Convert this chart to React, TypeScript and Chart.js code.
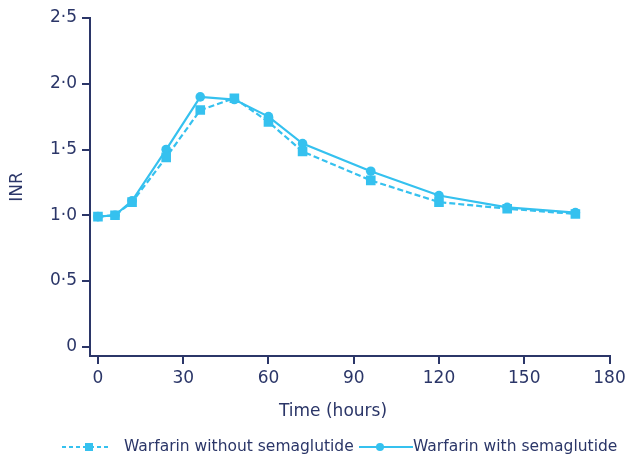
import React, { useEffect, useRef } from "react";
import { Chart, registerables } from "chart.js";

Chart.register(...registerables);

// ---- data ----
const TIMES = [0, 6, 12, 24, 36, 48, 60, 72, 96, 120, 144, 168];
const INR_WITHOUT = [0.99, 1.0, 1.1, 1.44, 1.8, 1.89, 1.71, 1.485, 1.265, 1.1, 1.05, 1.01];
const INR_WITH = [0.99, 1.0, 1.11, 1.5, 1.9, 1.88, 1.75, 1.545, 1.335, 1.15, 1.06, 1.02];
const X_TICKS = [0, 30, 60, 90, 120, 150, 180];
const Y_TICKS = [0, 0.5, 1, 1.5, 2, 2.5];
const SERIES_LABELS = ["Warfarin without semaglutide", "Warfarin with semaglutide"];
const X_TITLE = "Time (hours)";
const Y_TITLE = "INR";

// ---- styles ----
const NAVY = "#2b3668";
const BLUE = "#35c1ef";
const FONT = '"DejaVu Sans", Verdana, sans-serif';

const overlayPlugin = {
  id: "overlay",
  afterDraw(chart: any) {
    const ctx = chart.ctx as CanvasRenderingContext2D;
    ctx.save();
    // x axis title
    ctx.fillStyle = NAVY;
    ctx.font = `17px ${FONT}`;
    ctx.textAlign = "center";
    ctx.textBaseline = "middle";
    ctx.fillText(X_TITLE, 333, 412);

    // legend
    const ly = 447;
    ctx.font = `15.5px ${FONT}`;
    ctx.textAlign = "left";
    // item 1: dashed line + square
    ctx.strokeStyle = BLUE;
    ctx.lineWidth = 2;
    ctx.setLineDash([4, 3]);
    ctx.beginPath();
    ctx.moveTo(62, ly);
    ctx.lineTo(111, ly);
    ctx.stroke();
    ctx.setLineDash([]);
    ctx.fillStyle = BLUE;
    ctx.fillRect(89 - 4, ly - 4, 8, 8);
    ctx.fillStyle = NAVY;
    ctx.fillText(SERIES_LABELS[0], 124, ly);
    // item 2: solid line + circle
    ctx.strokeStyle = BLUE;
    ctx.beginPath();
    ctx.moveTo(359, ly);
    ctx.lineTo(413, ly);
    ctx.stroke();
    ctx.fillStyle = BLUE;
    ctx.beginPath();
    ctx.arc(380, ly, 4, 0, Math.PI * 2);
    ctx.fill();
    ctx.fillStyle = NAVY;
    ctx.fillText(SERIES_LABELS[1], 413, ly);
    ctx.restore();
  },
};

export default function App() {
  const ref = useRef<HTMLCanvasElement | null>(null);

  useEffect(() => {
    if (!ref.current) return;
    const chart = new Chart(ref.current, {
      type: "line",
      data: {
        datasets: [
          {
            label: SERIES_LABELS[0],
            data: TIMES.map((t, i) => ({ x: t, y: INR_WITHOUT[i] })),
            borderColor: BLUE,
            backgroundColor: BLUE,
            borderWidth: 2.2,
            borderDash: [6, 3],
            pointStyle: "rect",
            pointRadius: 6.8,
            pointBorderWidth: 0,
            pointBackgroundColor: BLUE,
            tension: 0,
          },
          {
            label: SERIES_LABELS[1],
            data: TIMES.map((t, i) => ({ x: t, y: INR_WITH[i] })),
            borderColor: BLUE,
            backgroundColor: BLUE,
            borderWidth: 2.2,
            pointStyle: "circle",
            pointRadius: 4.8,
            pointBorderWidth: 0,
            pointBackgroundColor: BLUE,
            tension: 0,
          },
        ],
      },
      options: {
        responsive: false,
        animation: false,
        layout: { padding: { left: 0, top: 18, right: 18.5, bottom: 0 } },
        plugins: {
          legend: { display: false },
          tooltip: { enabled: false },
        },
        scales: {
          x: {
            type: "linear",
            min: -2.8,
            max: 180,
            afterBuildTicks: (s: any) => {
              s.ticks = X_TICKS.map((value) => ({ value }));
            },
            afterFit: (s: any) => {
              s.height = 100;
              s.paddingLeft = 0;
              s.paddingRight = 0;
            },
            grid: {
              drawOnChartArea: false,
              drawTicks: true,
              tickLength: 8,
              color: NAVY,
              lineWidth: 2,
            },
            border: { color: NAVY, width: 2 },
            ticks: {
              color: NAVY,
              font: { family: FONT, size: 17 },
              padding: 4,
              maxRotation: 0,
              autoSkip: false,
              callback: (v: any) => String(v),
            },
          },
          y: {
            type: "linear",
            min: -0.07,
            max: 2.5,
            afterBuildTicks: (s: any) => {
              s.ticks = Y_TICKS.map((value) => ({ value }));
            },
            afterFit: (s: any) => {
              s.width = 90;
            },
            grid: {
              drawOnChartArea: false,
              drawTicks: true,
              tickLength: 8,
              color: NAVY,
              lineWidth: 2,
            },
            border: { color: NAVY, width: 2 },
            ticks: {
              color: NAVY,
              font: { family: FONT, size: 17 },
              padding: 5,
              autoSkip: false,
              callback: (v: any) =>
                Number(v) === 0 ? "0" : Number(v).toFixed(1).replace(".", "·"),
            },
            title: {
              display: true,
              text: Y_TITLE,
              color: NAVY,
              font: { family: FONT, size: 17 },
              padding: { top: 7, bottom: 0 },
            },
          },
        },
      },
      plugins: [overlayPlugin],
    });
    return () => chart.destroy();
  }, []);

  return (
    <div style={{ position: "fixed", left: 0, top: 0, width: 628, height: 456, background: "#fff" }}>
      <canvas ref={ref} width={628} height={456} style={{ display: "block" }} />
    </div>
  );
}
